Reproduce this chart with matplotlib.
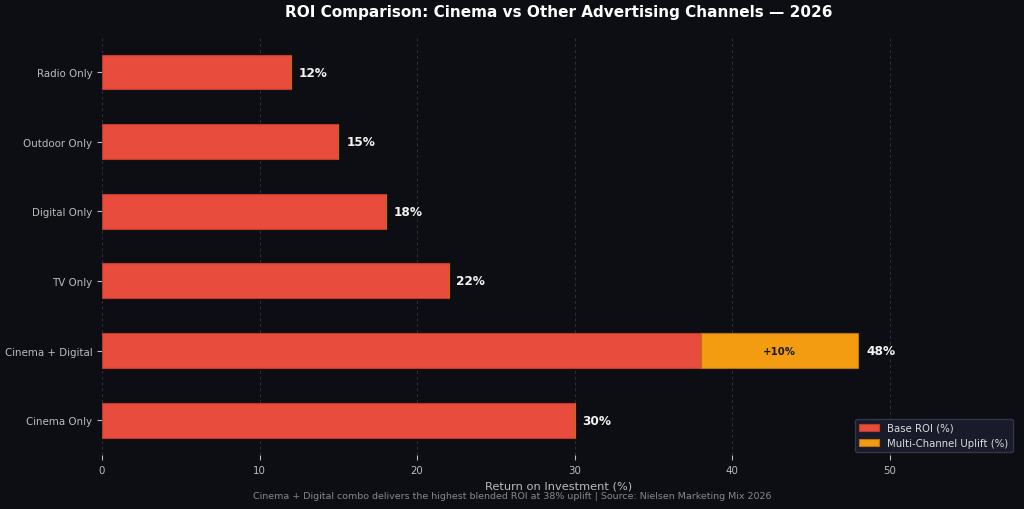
import matplotlib.pyplot as plt

# channel data (bottom to top)
channels = ["Cinema Only", "Cinema + Digital", "TV Only", "Digital Only", "Outdoor Only", "Radio Only"]
base_roi = [30, 38, 22, 18, 15, 12]
uplift = [0, 10, 0, 0, 0, 0]

bg = "#0d0e13"
red = "#e74c3c"
orange = "#f39c12"

fig, ax = plt.subplots(figsize=(10.24, 5.1), dpi=100)
fig.patch.set_facecolor(bg)
ax.set_facecolor(bg)

ypos = range(len(channels))
ax.barh(ypos, base_roi, height=0.5, color=red, edgecolor="#c0392b", linewidth=0.8,
        label="Base ROI (%)", zorder=3)
ax.barh(ypos, uplift, left=base_roi, height=0.5, color=orange, edgecolor="#b9740c",
        linewidth=0.8, label="Multi-Channel Uplift (%)", zorder=3)

# value labels
for i in ypos:
    total = base_roi[i] + uplift[i]
    ax.text(total + 0.5, i, f"{total}%", va="center", ha="left", color="#f2f2f2",
            fontsize=8.7, fontweight="bold")
    if uplift[i] > 0:
        ax.text(base_roi[i] + uplift[i] / 2, i, f"+{uplift[i]}%", va="center", ha="center",
                color="#1a1a1a", fontsize=7.3, fontweight="bold", zorder=4)

ax.set_yticks(list(ypos))
ax.set_yticklabels(channels)
ax.set_ylim(-0.5, 5.5)
ax.set_xlim(0, 58)
ax.set_xticks([0, 10, 20, 30, 40, 50])
ax.tick_params(colors="#bbbbbb", labelsize=7.4)
for s in ax.spines.values():
    s.set_visible(False)
ax.grid(axis="x", color="#2e313a", linestyle=(0, (3, 3)), linewidth=0.7, zorder=0)

ax.set_xlabel("Return on Investment (%)", color="#bbbbbb", fontsize=8.2, labelpad=4)
ax.set_title("ROI Comparison: Cinema vs Other Advertising Channels \u2014 2026",
             color="white", fontsize=11, fontweight="bold", pad=15)

leg = ax.legend(loc="lower right", fontsize=7.3, facecolor="#1a1b2a", edgecolor="#33354a",
                labelcolor="#dddddd", framealpha=1, borderaxespad=0.3)

fig.text(0.5, 0.021, "Cinema + Digital combo delivers the highest blended ROI at 38% uplift | Source: Nielsen Marketing Mix 2026",
         ha="center", color="#888888", fontsize=6.8)

plt.subplots_adjust(left=0.0996, right=0.992, top=0.925, bottom=0.106)
plt.savefig("out.png", facecolor=bg)
